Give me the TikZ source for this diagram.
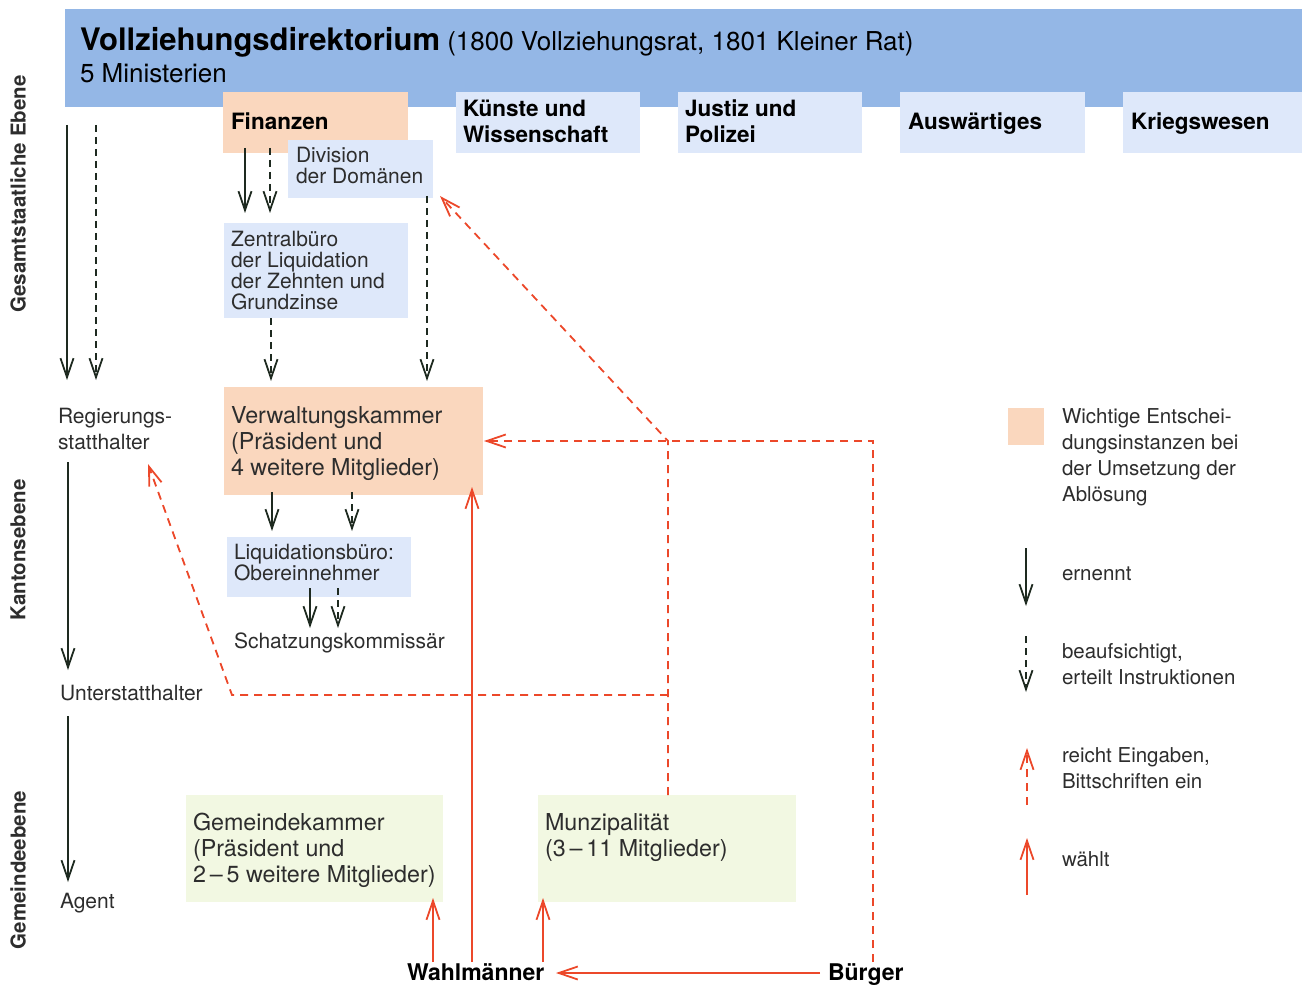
\documentclass[tikz,border=0pt]{standalone}
\usepackage{fontspec}
\setmainfont{TeX Gyre Heros}
\usetikzlibrary{arrows.meta}
\definecolor{hdrblue}{RGB}{148,183,230}
\definecolor{lblue}{RGB}{222,232,250}
\definecolor{peach}{RGB}{250,215,190}
\definecolor{lgreen}{RGB}{242,248,226}
\definecolor{txtc}{RGB}{45,45,45}
\definecolor{adark}{RGB}{30,42,32}
\definecolor{ared}{RGB}{236,72,42}
\begin{document}
\begin{tikzpicture}[x=1pt,y=-1pt,
  box/.style={inner sep=0pt, outer sep=0pt, anchor=north west, draw=none},
  lbl/.style={inner sep=0pt, outer sep=0pt, anchor=base west, align=left, text=txtc},
  fsmall/.style={font=\fontsize{21}{21}\selectfont},
  fmid/.style={font=\fontsize{23.3}{26}\selectfont},
  fleg/.style={font=\fontsize{20.5}{26}\selectfont},
  fmin/.style={font=\fontsize{22.5}{26}\selectfont\bfseries},
  fbig/.style={font=\fontsize{23}{26}\selectfont\bfseries},
  level/.style={rotate=90, inner sep=0pt, text=txtc, font=\fontsize{20.5}{24}\selectfont\bfseries},
  tipk/.style={-{Straight Barb[length=19pt,width=13pt,line width=1.8pt]}},
  appoint/.style={draw=adark, line width=1.8pt, tipk},
  supervise/.style={appoint, dash pattern=on 7pt off 5pt},
  elect/.style={draw=ared, line width=1.8pt, tipk},
  petition/.style={elect, dash pattern=on 8pt off 6pt}
]
\useasboundingbox (0,0) rectangle (1302,987);

% header
\node[box, fill=hdrblue, minimum width=1237pt, minimum height=98pt] (hdr) at (65,9) {};
\node[lbl, text=black] (title) at (80,51) {\fontsize{31}{36}\selectfont\bfseries Vollziehungsdirektorium\fontsize{26}{30}\selectfont\mdseries{} (1800 Vollziehungsrat, 1801 Kleiner Rat)};
\node[lbl, font=\fontsize{26}{30}\selectfont, text=black] (minis) at (80,83) {5 Ministerien};

% ministries
\node[box, fill=peach, minimum width=185pt, minimum height=61pt] (fin) at (223,92) {};
\node[lbl, fmin, text=black] (finT) at (231,130) {Finanzen};
\node[box, fill=lblue, minimum width=184pt, minimum height=61pt] (kw) at (456,92) {};
\node[lbl, fmin, text=black] (kwT) at (463,143) {Künste und\\Wissenschaft};
\node[box, fill=lblue, minimum width=184pt, minimum height=61pt] (jp) at (678,92) {};
\node[lbl, fmin, text=black] (jpT) at (685,143) {Justiz und\\Polizei};
\node[box, fill=lblue, minimum width=185pt, minimum height=61pt] (aus) at (900,92) {};
\node[lbl, fmin, text=black] (ausT) at (908,130) {Auswärtiges};
\node[box, fill=lblue, minimum width=179pt, minimum height=61pt] (krg) at (1123,92) {};
\node[lbl, fmin, text=black] (krgT) at (1131,130) {Kriegswesen};

% Finanzen branch
\node[box, fill=lblue, minimum width=145pt, minimum height=58pt] (div) at (288,140) {};
\node[lbl, fsmall] (divT) at (296,184) {Division\\der Domänen};
\node[box, fill=lblue, minimum width=184pt, minimum height=95pt] (zb) at (224,223) {};
\node[lbl, fsmall] (zbT) at (231,309) {Zentralbüro\\der Liquidation\\der Zehnten und\\Grundzinse};
\node[box, fill=peach, minimum width=259pt, minimum height=108pt] (vk) at (224,387) {};
\node[lbl, fmid] (vkT) at (231,475) {Verwaltungskammer\\(Präsident und\\4 weitere Mitglieder)};
\node[box, fill=lblue, minimum width=184pt, minimum height=60pt] (lq) at (227,537) {};
\node[lbl, fsmall] (lqT) at (234,580) {Liquidationsbüro:\\Obereinnehmer};
\node[lbl, fsmall] (sk) at (234,648) {Schatzungskommissär};

% left column
\node[lbl, font=\fontsize{21}{26}\selectfont] (reg) at (58,449) {Regierungs-\\statthalter};
\node[lbl, fsmall] (unter) at (60,700) {Unterstatthalter};
\node[lbl, fsmall] (agent) at (60,908) {Agent};

% communal level
\node[box, fill=lgreen, minimum width=257pt, minimum height=107pt] (gk) at (186,795) {};
\node[lbl, fmid] (gkT) at (193,882) {Gemeindekammer\\(Präsident und\\2\,–\,5 weitere Mitglieder)};
\node[box, fill=lgreen, minimum width=258pt, minimum height=107pt] (mz) at (538,795) {};
\node[lbl, fmid] (mzT) at (545,856) {Munzipalität\\(3\,–\,11 Mitglieder)};
\node[lbl, fbig, text=black] (wahl) at (407,980) {Wahlmänner};
\node[lbl, fbig, text=black] (buerger) at (828,980) {Bürger};

% level labels
\node[level] (lev1) at (18,194) {Gesamtstaatliche Ebene};
\node[level] (lev2) at (18,550) {Kantonsebene};
\node[level] (lev3) at (18,870) {Gemeindeebene};

% black connectors
\draw[appoint]   ([shift={(2,18)}]hdr.south west) -- ([shift={(9,-69)}]reg.base west);
\draw[supervise] ([shift={(31,18)}]hdr.south west) -- ([shift={(38,-69)}]reg.base west);
\draw[appoint]   ([shift={(22,-5)}]fin.south west) -- ([shift={(21,-10)}]zb.north west);
\draw[supervise] ([shift={(47,-5)}]fin.south west) -- ([shift={(46,-10)}]zb.north west);
\draw[supervise] ([shift={(47,0)}]zb.south west) -- ([shift={(47,-6)}]vk.north west);
\draw[supervise] ([shift={(139,-2)}]div.south west) -- ([shift={(203,-6)}]vk.north west);
\draw[appoint]   ([shift={(48,-3)}]vk.south west) -- ([shift={(45,-6)}]lq.north west);
\draw[supervise] ([shift={(128,-3)}]vk.south west) -- ([shift={(125,-6)}]lq.north west);
\draw[appoint]   ([shift={(83,-9)}]lq.south west) -- ([shift={(76,-20)}]sk.base west);
\draw[supervise] ([shift={(111,-9)}]lq.south west) -- ([shift={(104,-20)}]sk.base west);
\draw[appoint]   ([shift={(10,13)}]reg.base west) -- ([shift={(8,-30)}]unter.base west);
\draw[appoint]   ([shift={(8,16)}]unter.base west) -- ([shift={(8,-26)}]agent.base west);

% red connectors
\coordinate (jct) at (668,441);
\coordinate (jct2) at (668,695);
\coordinate (bend) at (232,695);
\draw[elect] ([shift={(-8,-7)}]buerger.base west) -- ([shift={(149,-7)}]wahl.base west);
\draw[elect] ([shift={(26,-18)}]wahl.base west) -- ([shift={(247,-4)}]gk.south west);
\draw[elect] ([shift={(136,-18)}]wahl.base west) -- ([shift={(5,-4)}]mz.south west);
\draw[elect] ([shift={(65,-18)}]wahl.base west) -- ([shift={(248,-8)}]vk.south west);
\draw[petition] ([shift={(45,-18)}]buerger.base west) |- ([shift={(260,54)}]vk.north west);
\draw[petition] ([shift={(130,0)}]mz.north west) -- (jct) -- ([shift={(7,-2)}]div.south east);
\draw[petition] (jct2) -- (bend) -- ([shift={(90,15)}]reg.base west);

% legend
\node[box, fill=peach, minimum width=36pt, minimum height=37pt] (legsq) at (1008,408) {};
\node[lbl, fleg] (leg1) at (1062,501) {Wichtige Entschei-\\dungsinstanzen bei\\der Umsetzung der\\Ablösung};
\node[lbl, fleg] (leg2) at (1062,580) {ernennt};
\node[lbl, fleg] (leg3) at (1062,684) {beaufsichtigt,\\erteilt Instruktionen};
\node[lbl, fleg] (leg4) at (1062,788) {reicht Eingaben,\\Bittschriften ein};
\node[lbl, fleg] (leg5) at (1062,866) {wählt};
\draw[appoint]   ([shift={(-36,-32)}]leg2.base west) -- ([shift={(-36,26)}]leg2.base west);
\draw[supervise] ([shift={(-36,-48)}]leg3.base west) -- ([shift={(-36,8)}]leg3.base west);
\draw[petition]  ([shift={(-35,17)}]leg4.base west) -- ([shift={(-35,-40)}]leg4.base west);
\draw[elect]     ([shift={(-35,29)}]leg5.base west) -- ([shift={(-35,-28)}]leg5.base west);
\end{tikzpicture}
\end{document}
